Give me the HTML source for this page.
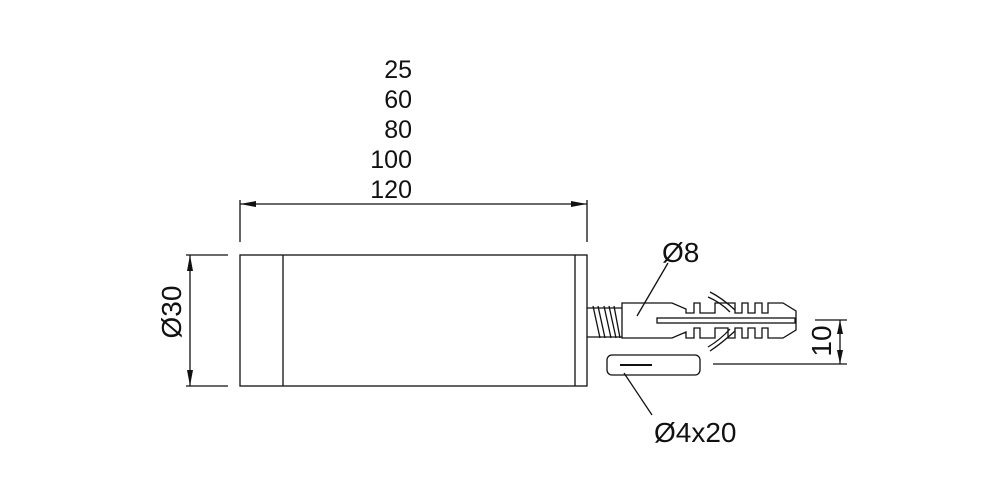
<!DOCTYPE html>
<html><head><meta charset="utf-8"><style>
html,body{margin:0;padding:0;background:#fff;}
svg{display:block;font-family:"Liberation Sans",Arial,sans-serif;}
</style></head><body>
<svg width="1000" height="500" viewBox="0 0 1000 500" xmlns="http://www.w3.org/2000/svg">
<g fill="#111" font-size="25" text-anchor="end">
<text x="412" y="78">25</text>
<text x="412" y="108">60</text>
<text x="412" y="138">80</text>
<text x="412" y="168">100</text>
<text x="412" y="198">120</text>
</g>
<g stroke="#111" stroke-width="1.3" fill="none">
<line x1="240" y1="204" x2="587" y2="204"/>
<line x1="240" y1="200" x2="240" y2="242"/>
<line x1="587" y1="200" x2="587" y2="242"/>
<rect x="240" y="255" width="347" height="131"/>
<line x1="283" y1="255" x2="283" y2="386"/>
<line x1="575" y1="255" x2="575" y2="386"/>
<line x1="186" y1="255" x2="228" y2="255"/>
<line x1="186" y1="386" x2="228" y2="386"/>
<line x1="190" y1="255" x2="190" y2="386"/>
<line x1="587" y1="308" x2="622" y2="308"/>
<line x1="587" y1="337" x2="622" y2="337"/>
<path d="M593,306 L600,338 M598,306 L605,338 M604,306 L611,338 M609,306 L616,338 M614,306 L620,338"/>
<path d="M622,303 L672,303 L686,309 L686,313 L694,313 L694,303 L700,303 L700,313 L715,313 L715,303 L735,303 L735,313 L742,313 L742,303 L748,303 L748,313 L755,313 L755,303 L762,303 L762,313 L768,313 L768,303 L783,303 L796,311 L796,330 L783,338 L768,338 L768,328 L762,328 L762,338 L755,338 L755,328 L748,328 L748,338 L742,338 L742,328 L735,328 L735,338 L728,338 L728,328 L715,328 L715,338 L700,338 L700,328 L694,328 L694,338 L686,338 L686,332 L672,338 L622,338 Z"/>
<rect x="657" y="318" width="138" height="5"/>
<path d="M710,292 Q722,298 735,310 M708,297 Q720,302 730,312"/>
<path d="M710,351 Q722,343 735,331 M708,347 Q720,340 730,329"/>
<rect x="607" y="355" width="93" height="20" rx="5"/>
<line x1="620" y1="365" x2="652" y2="365" stroke-width="2"/>
<line x1="668" y1="263" x2="637" y2="316"/>
<line x1="624" y1="373" x2="652" y2="415"/>
<line x1="815" y1="320" x2="847" y2="320"/>
<line x1="713" y1="364" x2="847" y2="364"/>
<line x1="840" y1="320" x2="840" y2="364"/>
</g>
<g fill="#111">
<polygon points="240,204 256,201 256,207"/>
<polygon points="587,204 571,201 571,207"/>
<polygon points="190,255 187,271 193,271"/>
<polygon points="190,386 187,370 193,370"/>
<polygon points="840,320 837,334 843,334"/>
<polygon points="840,364 837,350 843,350"/>
</g>
<g fill="#111" font-size="28">
<text x="662" y="262">Ø8</text>
<text x="654" y="442">Ø4x20</text>
<text transform="translate(181,312) rotate(-90)" text-anchor="middle">Ø30</text>
<text transform="translate(831,341) rotate(-90)" text-anchor="middle">10</text>
</g>
</svg>
</body></html>
